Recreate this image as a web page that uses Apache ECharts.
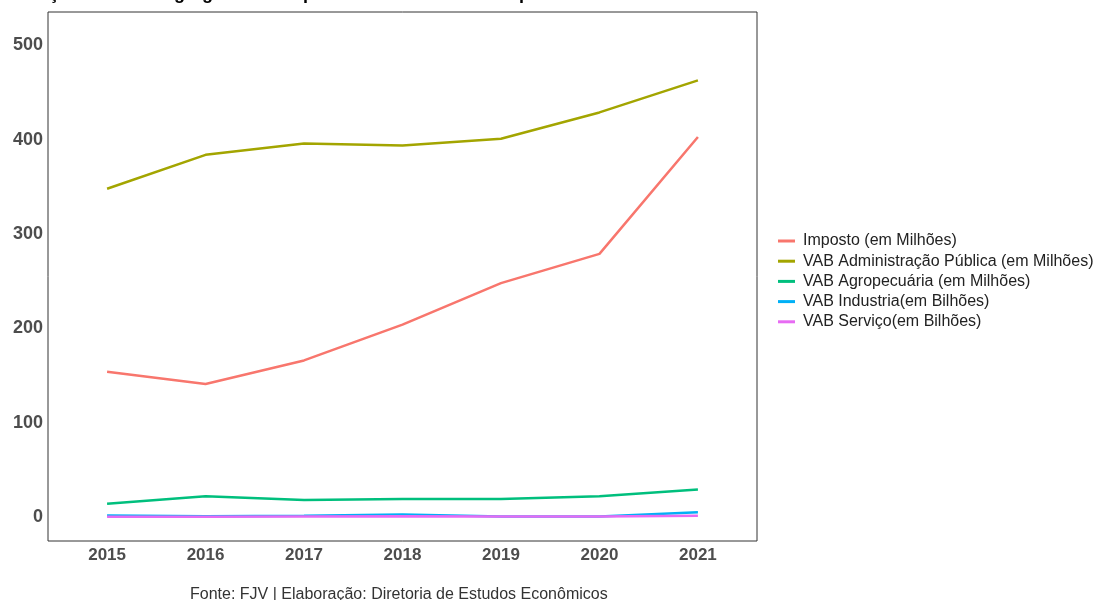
<!DOCTYPE html>
<html>
<head>
<meta charset="utf-8">
<script src="https://cdn.jsdelivr.net/npm/echarts@6/dist/echarts.min.js"></script>
<style>html,body{margin:0;padding:0;background:#fff}#c{width:1101px;height:600px}</style>
</head>
<body>
<div id="c"></div>
<script>
const years = [2015, 2016, 2017, 2018, 2019, 2020, 2021];
const seriesNames = [
  'Imposto (em Milhões)',
  'VAB Administração Pública (em Milhões)',
  'VAB Agropecuária (em Milhões)',
  'VAB Industria(em Bilhões)',
  'VAB Serviço(em Bilhões)'
];
const imposto = [154, 141, 166, 204, 248, 279, 403];
const vabAdm = [348, 384, 396, 394, 401, 429, 463];
const vabAgro = [14, 22, 18, 19, 19, 22, 29];
const vabInd = [1.5, 0.8, 1.3, 2.6, 0.5, 0.6, 5.0];
const vabServ = [0.3, 0.3, 0.5, 0.8, 0.4, 0.5, 1.3];
const yTicks = [0, 100, 200, 300, 400, 500];
const colors = ['#F8766D', '#A3A500', '#00BF7D', '#00B0F6', '#E76BF3'];
const titleText = 'Evolução do Valor Agregado Bruto por Setor e Receita de Impostos';
const caption = 'Fonte: FJV | Elaboração: Diretoria de Estudos Econômicos';

const allData = [imposto, vabAdm, vabAgro, vabInd, vabServ];
const chart = echarts.init(document.getElementById('c'));
chart.setOption({
  animation: false,
  color: colors,
  title: [{
    text: titleText, left: 0, top: -15, padding: 0,
    textStyle: {fontFamily: 'Liberation Sans', fontSize: 18, fontWeight: 'bold', color: '#000'}
  }, {
    text: caption, left: 190, top: 587, padding: 0,
    textStyle: {fontFamily: 'Liberation Sans', fontSize: 16, fontWeight: 'normal', color: '#333'}
  }],
  legend: {
    orient: 'vertical', left: 778, top: 233, padding: 0,
    icon: 'rect', itemWidth: 17, itemHeight: 3, itemGap: 4.2,
    textStyle: {fontFamily: 'Liberation Sans', fontSize: 16, color: '#222', padding: [0, 0, 0, 3]},
    data: seriesNames
  },
  grid: {
    left: 48, top: 12, width: 709, height: 529,
    show: true, borderColor: '#333', borderWidth: 1, backgroundColor: '#fff'
  },
  xAxis: {
    type: 'value', min: 2014.4, max: 2021.6,
    axisLine: {show: false}, axisTick: {show: false}, splitLine: {show: false},
    axisLabel: {
      customValues: years, margin: 6,
      fontFamily: 'Liberation Sans', fontSize: 17, fontWeight: 'bold', color: '#4d4d4d',
      formatter: v => String(v)
    }
  },
  yAxis: {
    type: 'value', min: -25.5, max: 535.5,
    axisLine: {show: false}, axisTick: {show: false}, splitLine: {show: false},
    axisLabel: {
      customValues: yTicks, margin: 5,
      fontFamily: 'Liberation Sans', fontSize: 18, fontWeight: 'bold', color: '#4d4d4d'
    }
  },
  series: seriesNames.map((n, i) => ({
    name: n, type: 'line', showSymbol: false,
    lineStyle: {width: 2.5, color: colors[i]},
    itemStyle: {color: colors[i]},
    data: years.map((y, j) => [y, allData[i][j]])
  }))
});
</script>
</body>
</html>
